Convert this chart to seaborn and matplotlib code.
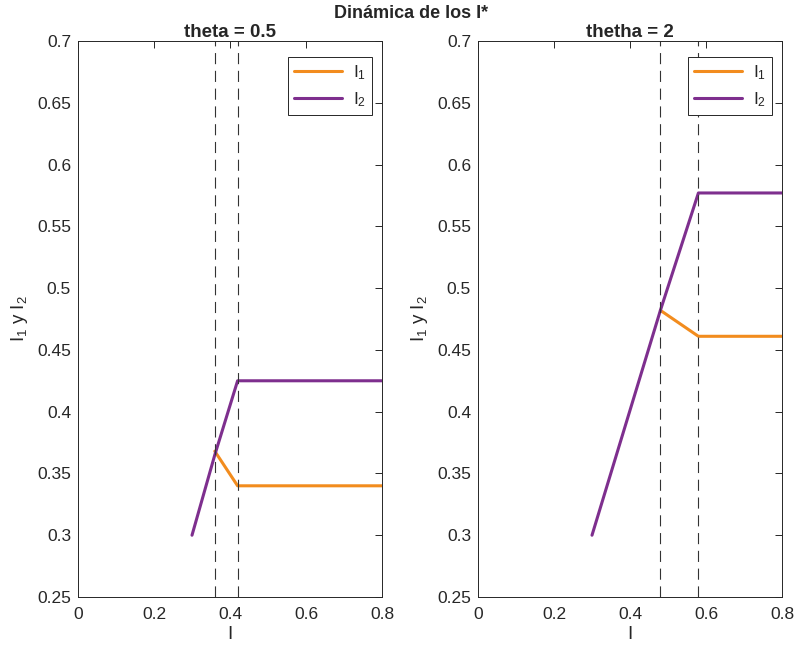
import matplotlib
matplotlib.use('Agg')
import matplotlib.pyplot as plt
import pandas as pd
import seaborn as sns

# theta = 0.5
i_a = [0.30, 0.36, 0.42, 0.80]
i2_a = [0.30, 0.365, 0.425, 0.425]
i1_x_a = [0.36, 0.42, 0.80]
i1_a = [0.368, 0.34, 0.34]
vlines_a = [0.36, 0.42]

# thetha = 2
i_b = [0.30, 0.48, 0.58, 0.80]
i2_b = [0.30, 0.482, 0.577, 0.577]
i1_x_b = [0.48, 0.58, 0.80]
i1_b = [0.482, 0.461, 0.461]
vlines_b = [0.48, 0.58]

titles = ['theta = 0.5', 'thetha = 2']
xticks = [0, 0.2, 0.4, 0.6, 0.8]
yticks = [0.25, 0.3, 0.35, 0.4, 0.45, 0.5, 0.55, 0.6, 0.65, 0.7]

orange = '#F28C1E'
purple = '#7E2F8E'

sns.set_style('white')
plt.rcParams['font.family'] = ['Liberation Sans', 'DejaVu Sans']
plt.rcParams['mathtext.default'] = 'regular'

fig = plt.figure(figsize=(7.95, 6.46), dpi=100)
ax1 = fig.add_axes([78 / 795, 49 / 646, 304 / 795, 556 / 646])
ax2 = fig.add_axes([478 / 795, 49 / 646, 304 / 795, 556 / 646])

panels = [
    (ax1, i_a, i2_a, i1_x_a, i1_a, vlines_a, titles[0]),
    (ax2, i_b, i2_b, i1_x_b, i1_b, vlines_b, titles[1]),
]

for ax, x2, y2, x1, y1, vl, title in panels:
    d1 = pd.DataFrame({'I': x1, 'val': y1})
    d2 = pd.DataFrame({'I': x2, 'val': y2})
    sns.lineplot(data=d1, x='I', y='val', ax=ax, color=orange, lw=2.2,
                 label='I$_1$', sort=False)
    sns.lineplot(data=d2, x='I', y='val', ax=ax, color=purple, lw=2.2,
                 label='I$_2$', sort=False)
    for v in vl:
        ax.axvline(v, color='#333333', lw=0.8, dashes=(10, 6))
    ax.set_xlim(0, 0.8)
    ax.set_ylim(0.25, 0.7)
    ax.set_xticks(xticks)
    ax.set_xticklabels(['0', '0.2', '0.4', '0.6', '0.8'])
    ax.set_yticks(yticks)
    ax.set_yticklabels(['0.25', '0.3', '0.35', '0.4', '0.45', '0.5',
                        '0.55', '0.6', '0.65', '0.7'])
    ax.tick_params(direction='in', length=5, width=0.7, top=True, right=True,
                   labelsize=12.5, colors='#262626')
    ax.tick_params(axis='x', pad=7)
    ax.tick_params(axis='y', pad=5)
    for s in ax.spines.values():
        s.set_color('#262626')
        s.set_linewidth(0.7)
    ax.set_title(title, fontsize=13.5, fontweight='bold', pad=3)
    ax.set_xlabel('I', fontsize=13.5, color='#262626', labelpad=3)
    ax.set_ylabel('I$_1$ y I$_2$', fontsize=13.5, color='#262626', labelpad=5)
    leg = ax.legend(loc='upper right', bbox_to_anchor=(1 - 10 / 304, 1 - 16 / 556),
                    borderaxespad=0, fontsize=12.5, handlelength=2.8,
                    fancybox=False, edgecolor='#262626', framealpha=1,
                    borderpad=0.35, labelspacing=0.5, handletextpad=0.6)
    leg.get_frame().set_linewidth(0.7)

fig.suptitle('Dinámica de los I*', x=0.517, fontsize=13, fontweight='bold', y=0.993)

fig.savefig('out.png', dpi=100)
